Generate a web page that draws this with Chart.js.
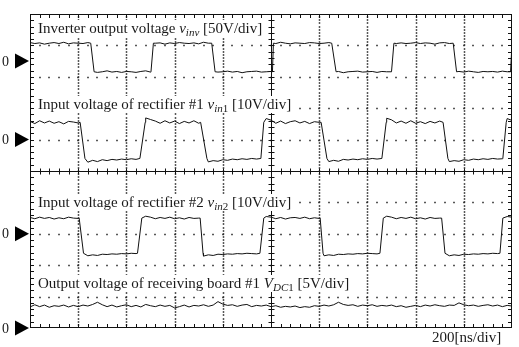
<!DOCTYPE html>
<html>
<head>
<meta charset="utf-8">
<script src="https://cdn.jsdelivr.net/npm/chart.js@4/dist/chart.umd.min.js"></script>
<style>
  body { margin: 0; background: #fff; }
  canvas { display: block; }
</style>
</head>
<body>
<canvas id="scope" width="519" height="347"></canvas>
<script>
// ===============================
// SCOPE DATA (all values in divisions, 10 x 10 grid)
// ===============================
const xDivs = 10;
const yDivs = 10;

// transitions: [start, end] of each edge
const ch1Edges = [[1.26, 1.33], [2.51, 2.56], [3.77, 3.84], [5.03, 5.05], [6.26, 6.35], [7.50, 7.55], [8.78, 8.85], [9.97, 10.0]];
const ch2Edges = [[1.04, 1.14], [2.28, 2.39], [3.54, 3.67], [4.79, 4.85], [6.04, 6.16], [7.30, 7.39], [8.57, 8.67], [9.81, 9.88]];
const ch3Edges = [[1.02, 1.11], [2.23, 2.32], [3.53, 3.59], [4.77, 4.85], [6.02, 6.08], [7.26, 7.33], [8.54, 8.61], [9.75, 9.81]];
const ch4Edges = [];

// high / low levels
const ch1Levels = [9.07, 8.16];
const ch2Levels = [6.55, 5.40];
const ch3Levels = [3.50, 2.38];
const ch4Levels = [0.70, 0.70];

// ground markers ("0" arrows on the left)
const zeroLevels = [8.5, 6.0, 3.0, 0.0];

// ripple on the traces, one value per 0.1 div, in 1/100 div
const ch1Ripple = [2,-1,1,-3,0,2,-1,3,-2,1, 0,-1,2,1,-2,0,3,-1,1,-2, 1,0,-2,1,3,-1,0,1,-3,1, -1,2,0,-1,1,-2,3,0,1,-1,
                   0,2,-1,1,-3,0,1,2,-1,0, 1,-1,3,0,-2,1,0,-1,2,1, -1,0,2,-1,1,-3,0,1,2,-1, 0,1,-2,1,0,3,-1,1,-1,0,
                   2,-1,1,0,-3,1,2,-1,0,1, -1,2,0,-2,1,0,1,-1,2,0, 1];
const ch2Ripple = [3,-4,5,-2,4,-3,2,-5,3,1, -2,-8,-12,-6,-10,-4,-7,-3,-5,-2, -4,-1,-3,0,14,9,4,-3,5,-2, 4,-4,3,-2,5,-3,2,-11,-7,-9,
                   -4,-6,-2,-4,-1,-3,0,-2,0,12, 7,-3,4,-4,2,5,-2,3,-4,2, 0,0,-10,-6,-9,-3,-5,-2,-4,-1, -3,0,-2,0,13,8,-2,4,-3,5,
                   -3,2,-4,3,-2,4,0,-10,-7,-9, -4,-6,-2,-4,-1,-3,0,-2,-1,12, 6];
const ch3Ripple = [2,-2,3,-1,2,-3,1,-2,3,0, -1,0,-8,-5,-7,-3,-4,-2,-3,-1, -2,0,-1,0,6,3,-2,2,-1,3, -2,1,-3,2,-1,0,-9,-5,-7,-3,
                   -4,-2,-3,-1,-2,0,-1,-2,0,5, 3,-2,2,-3,1,2,-1,3,-2,1, -1,-8,-5,-7,-3,-4,-2,-3,-1,-2, 0,-1,-2,0,6,3,-2,2,-1,3,
                   -2,1,-3,2,-1,0,0,-8,-5,-7, -3,-4,-2,-3,-1,-2,0,-1,0,5, 3];
const ch4Ripple = [-3,4,-2,3,-4,1,-1,3,-3,2, -2,3,0,5,12,4,-2,3,-3,1, 4,-2,2,-3,5,1,-2,3,-1,2, -6,-2,3,-3,2,0,4,-1,3,14,
                   6,2,4,-1,3,5,-2,2,0,3, -2,1,-4,-1,-3,0,-5,-2,-4,1, -1,3,0,4,12,5,2,4,-1,3, 1,4,-1,2,0,3,-2,1,-4,-1,
                   2,-2,3,0,4,1,-1,3,2,10, 4,1,3,-1,2,4,0,3,-2,2, 0];

// labels
const captions = [
  { x: 38, base: 33,  segs: [['Inverter output voltage '], ['v', 'i'], ['inv', 'is'], [' [50V/div]']] },
  { x: 38, base: 109, segs: [['Input voltage of rectifier #1 '], ['v', 'i'], ['in', 'is'], ['1', 's'], [' [10V/div]']] },
  { x: 38, base: 207, segs: [['Input voltage of rectifier #2 '], ['v', 'i'], ['in', 'is'], ['2', 's'], [' [10V/div]']] },
  { x: 38, base: 288, segs: [['Output voltage of receiving board #1 '], ['V', 'i'], ['DC', 'is'], ['1', 's'], [' [5V/div]']] }
];
const timeLabel = '200[ns/div]';

// ===============================
// BUILD TRACES
// ===============================
function buildTrace(edges, levels, ripple) {
  const pts = [];
  let hi = true;
  let e = 0;
  for (let i = 0; i < ripple.length; i++) {
    const t = i / 10;
    while (e < edges.length && edges[e][0] <= t) {
      pts.push({ x: edges[e][0], y: hi ? levels[0] : levels[1] });
      hi = !hi;
      pts.push({ x: edges[e][1], y: hi ? levels[0] : levels[1] });
      e++;
    }
    if (e > 0 && t < edges[e - 1][1]) continue;
    pts.push({ x: t, y: (hi ? levels[0] : levels[1]) + ripple[i] / 100 });
  }
  return pts;
}

const traces = [
  buildTrace(ch1Edges, ch1Levels, ch1Ripple),
  buildTrace(ch2Edges, ch2Levels, ch2Ripple),
  buildTrace(ch3Edges, ch3Levels, ch3Ripple),
  buildTrace(ch4Edges, ch4Levels, ch4Ripple)
];

// ===============================
// SCOPE SCREEN PLUGIN
// ===============================
const SERIF = '"Liberation Serif", "Times New Roman", serif';

function drawRich(ctx, x0, base, segs) {
  const fontOf = s => {
    const st = s[1] || '';
    const it = st.includes('i') ? 'italic ' : '';
    const size = st.includes('s') ? 11 : 15;
    return it + size + 'px ' + SERIF;
  };
  let w = 0;
  segs.forEach(s => { ctx.font = fontOf(s); w += ctx.measureText(s[0]).width; });
  ctx.fillStyle = '#fff';
  ctx.fillRect(x0 - 3, base - 13, w + 6, 17);
  ctx.fillStyle = '#1a1a1a';
  ctx.textBaseline = 'alphabetic';
  let x = x0;
  segs.forEach(s => {
    ctx.font = fontOf(s);
    const dy = (s[1] || '').includes('s') ? 3 : 0;
    ctx.fillText(s[0], x, base + dy);
    x += ctx.measureText(s[0]).width;
  });
}

const scopeScreen = {
  id: 'scopeScreen',
  beforeDatasetsDraw(chart) {
    const { ctx, chartArea: a, scales: { x, y } } = chart;
    ctx.save();

    // dotted grid
    ctx.fillStyle = '#222';
    for (let k = 1; k < xDivs; k++) {
      if (k === 5) continue;
      const py = y.getPixelForValue(k);
      for (let m = 1; m < 50; m++) {
        const px = x.getPixelForValue(m * 0.2);
        ctx.fillRect(Math.round(px) - 0.75, Math.round(py) - 0.25, 1.5, 1.5);
      }
      const px = x.getPixelForValue(k);
      for (let m = 1; m < 100; m++) {
        const qy = y.getPixelForValue(m * 0.1);
        ctx.fillRect(Math.round(px) - 0.25, Math.round(qy) - 0.75, 1.5, 1.5);
      }
    }

    // frame and centre cross with ticks
    ctx.strokeStyle = '#111';
    ctx.lineWidth = 1;
    ctx.strokeRect(a.left + 0.5, a.top + 0.5, a.right - a.left - 1, a.bottom - a.top - 1);
    const cx = Math.round(x.getPixelForValue(5)) + 0.5;
    const cy = Math.round(y.getPixelForValue(5)) + 0.5;
    ctx.beginPath();
    ctx.moveTo(a.left, cy); ctx.lineTo(a.right, cy);
    ctx.moveTo(cx, a.top); ctx.lineTo(cx, a.bottom);
    for (let m = 1; m < 50; m++) {
      const px = Math.round(x.getPixelForValue(m * 0.2)) + 0.5;
      ctx.moveTo(px, a.top); ctx.lineTo(px, a.top + 4);
      ctx.moveTo(px, a.bottom); ctx.lineTo(px, a.bottom - 4);
      ctx.moveTo(px, cy - 3); ctx.lineTo(px, cy + 3);
      const py = Math.round(y.getPixelForValue(m * 0.2)) + 0.5;
      ctx.moveTo(a.left, py); ctx.lineTo(a.left + 4, py);
      ctx.moveTo(a.right, py); ctx.lineTo(a.right - 4, py);
      ctx.moveTo(cx - 3, py); ctx.lineTo(cx + 3, py);
    }
    ctx.stroke();

    // captions
    captions.forEach(c => drawRich(ctx, c.x, c.base, c.segs));
    ctx.font = '15px ' + SERIF;
    ctx.fillText(timeLabel, 432, 342);

    // ground markers
    zeroLevels.forEach(v => {
      const py = y.getPixelForValue(v);
      ctx.fillStyle = '#000';
      ctx.beginPath();
      ctx.moveTo(a.left - 1, py);
      ctx.lineTo(a.left - 15, py - 7.5);
      ctx.lineTo(a.left - 15, py + 7.5);
      ctx.closePath();
      ctx.fill();
      ctx.fillStyle = '#1a1a1a';
      ctx.font = '14px ' + SERIF;
      ctx.textBaseline = 'middle';
      ctx.fillText('0', 2, py + 1);
      ctx.textBaseline = 'alphabetic';
    });

    ctx.restore();
  }
};

// ===============================
// CHART
// ===============================
new Chart(document.getElementById('scope').getContext('2d'), {
  type: 'line',
  data: {
    datasets: traces.map(pts => ({
      data: pts,
      borderColor: '#111',
      borderWidth: 1,
      pointRadius: 0,
      tension: 0,
      fill: false
    }))
  },
  options: {
    responsive: false,
    animation: false,
    devicePixelRatio: 1,
    layout: { padding: { left: 30, top: 14, right: 7, bottom: 19 } },
    plugins: { legend: { display: false }, tooltip: { enabled: false } },
    scales: {
      x: { type: 'linear', min: 0, max: xDivs, display: false },
      y: { type: 'linear', min: 0, max: yDivs, display: false }
    }
  },
  plugins: [scopeScreen]
});
</script>
</body>
</html>
